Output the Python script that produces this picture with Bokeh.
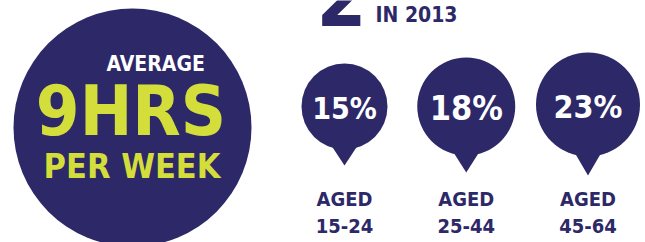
from bokeh.plotting import figure
from bokeh.models import Range1d
from bokeh.core.properties import value
from bokeh.embed import file_html
from bokeh.resources import INLINE

# ---- data ----
age_groups = ["15-24", "25-44", "45-64"]
shares = [15, 18, 23]
avg_hours = 9
year = 2013
headline_digit = "2"

# ---- style ----
PURPLE = "#2d2867"
LIME = "#d4de3b"
FONT = "DejaVu Sans Condensed"
pin_radius = [43, 49, 52]          # px
pin_cy = [106, 106, 104]           # px (layout)
pin_tail = [16, 17, 19]            # px below circle
pct_font = ["30px", "34px", "32px"]
pct_dy = [2, 1, 2]

W, H = 645, 242
p = figure(width=W, height=H, x_range=Range1d(0, W), y_range=Range1d(H, 0),
           output_backend="svg", toolbar_location=None, min_border=0)
p.axis.visible = False
p.grid.visible = False
p.outline_line_color = None
p.background_fill_color = "white"
p.border_fill_color = "white"

# secondary x range for the category pins
step = 121.75
first = 344.0
p.extra_x_ranges = {"pins": Range1d(-first / step, (W - first) / step)}
idx = list(range(len(age_groups)))

def txt(x, y, t, size, color, align="center", **kw):
    p.text(x=x, y=y, text=t, text_font=value(FONT), text_font_style="bold",
           text_font_size=size, text_color=color, text_align=align,
           text_baseline="middle", **kw)

# big circle
p.circle(x=[132], y=[127], radius=119, fill_color=PURPLE, line_color=None)
txt([106], [63], ["AVERAGE"], "21px", "white", align="left")
txt([130.5], [110.5], [f"{avg_hours}HRS"], "70px", LIME)
txt([131.5], [165.5], ["PER WEEK"], "34px", LIME)

# headline fragment
txt([341], [-4], [headline_digit], "80px", PURPLE)
txt([375], [14.5], [f"IN {year}"], "21px", PURPLE, align="left")

# pins
hw = 14 / step
xs, ys = [], []
for i, r, cy, tl in zip(idx, pin_radius, pin_cy, pin_tail):
    jy = cy + (r * r - 14 * 14) ** 0.5 - 3
    xs.append([i - hw, i + hw, i])
    ys.append([jy, jy, cy + r + tl])
p.patches(xs=xs, ys=ys, fill_color=PURPLE, line_color=None, x_range_name="pins")
p.scatter(x=idx, y=pin_cy, size=[2 * r for r in pin_radius], marker="circle",
          fill_color=PURPLE, line_color=None, x_range_name="pins")
for i, v, cy, fs, dy in zip(idx, shares, pin_cy, pct_font, pct_dy):
    p.text(x=[i], y=[cy], text=[f"{v}%"], text_font=value(FONT), text_font_style="bold",
           text_font_size=fs, text_color="white", text_align="center",
           text_baseline="middle", x_range_name="pins", y_offset=dy)

txt(idx, [198.5] * 3, ["AGED"] * 3, "20px", PURPLE, x_range_name="pins")
txt(idx, [225] * 3, age_groups, "20px", PURPLE, x_range_name="pins")

open("out.html", "w").write(file_html(p, INLINE))
